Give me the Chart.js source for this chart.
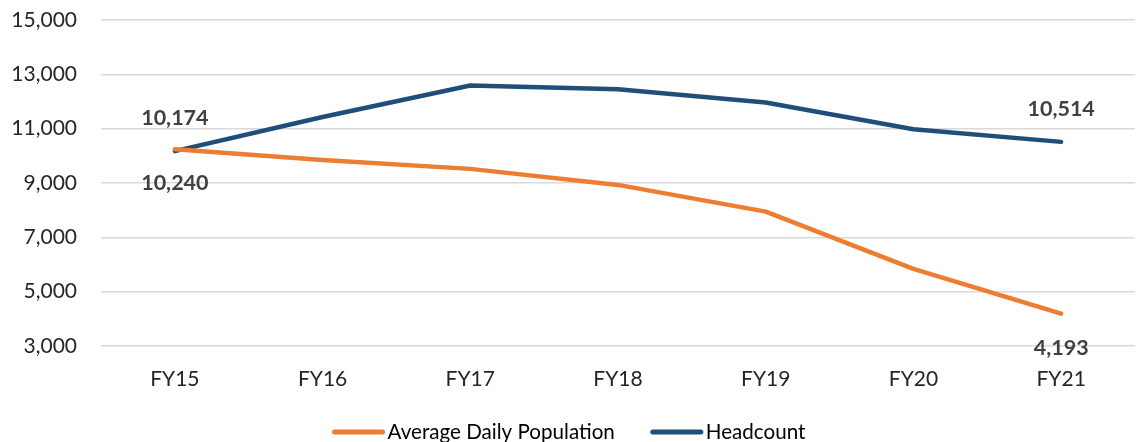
<!DOCTYPE html>
<html>
<head>
<meta charset="utf-8">
<script src="https://cdn.jsdelivr.net/npm/chart.js@4.4.1/dist/chart.umd.min.js"></script>
<style>
  html, body { margin: 0; padding: 0; background: #fff; }
  #wrap { width: 1138px; height: 442px; }
</style>
</head>
<body>
<div id="wrap"><canvas id="chart"></canvas></div>
<script>
var years = ['FY15', 'FY16', 'FY17', 'FY18', 'FY19', 'FY20', 'FY21'];
var adp = [10240, 9850, 9520, 8930, 7945, 5840, 4193];
var headcount = [10174, 11430, 12590, 12455, 11960, 10980, 10514];
var yTicks = [3000, 5000, 7000, 9000, 11000, 13000, 15000];

var FONT = 'Lato, "Open Sans", sans-serif';

// labels only on first and last point, headcount above, adp below
var endLabels = {
    id: 'endLabels',
    afterDatasetsDraw: function(chart) {
        var ctx = chart.ctx;
        ctx.save();
        ctx.font = 'bold 21.5px ' + FONT;
        ctx.fillStyle = '#404040';
        ctx.textAlign = 'center';
        ctx.textBaseline = 'middle';
        chart.data.datasets.forEach(function(ds, i) {
            var meta = chart.getDatasetMeta(i);
            [0, ds.data.length - 1].forEach(function(j) {
                var pt = meta.data[j];
                var off = ds.labelPos == 'above' ? -33 : 34;
                ctx.fillText(ds.data[j].toLocaleString('en-US'), pt.x, pt.y + off);
            });
        });
        ctx.restore();
    }
};

// legend drawn by hand so the line samples look like the original
var bottomLegend = {
    id: 'bottomLegend',
    afterDraw: function(chart) {
        var ctx = chart.ctx;
        ctx.save();
        ctx.font = '20.6px ' + FONT;
        ctx.textBaseline = 'middle';
        var y = 432;
        var sample = 52, gap = 3, spacing = 36;
        var items = chart.data.datasets;
        var total = 0;
        items.forEach(function(ds, i) {
            total += sample + gap + ctx.measureText(ds.label).width;
            if (i < items.length - 1) total += spacing;
        });
        var x = (chart.width - total) / 2;
        items.forEach(function(ds) {
            ctx.strokeStyle = ds.borderColor;
            ctx.lineWidth = 5;
            ctx.lineCap = 'round';
            ctx.beginPath();
            ctx.moveTo(x + 2, y);
            ctx.lineTo(x + sample - 2, y);
            ctx.stroke();
            x += sample + gap;
            ctx.fillStyle = '#000';
            ctx.fillText(ds.label, x, y);
            x += ctx.measureText(ds.label).width + spacing;
        });
        ctx.restore();
    }
};

new Chart(document.getElementById('chart'), {
    type: 'line',
    data: {
        labels: years,
        datasets: [{
            label: 'Average Daily Population',
            data: adp,
            borderColor: '#ED7D31',
            backgroundColor: '#ED7D31',
            borderWidth: 4.5,
            borderCapStyle: 'round',
            borderJoinStyle: 'round',
            pointRadius: 0,
            tension: 0,
            labelPos: 'below'
        }, {
            label: 'Headcount',
            data: headcount,
            borderColor: '#1F4E79',
            backgroundColor: '#1F4E79',
            borderWidth: 4.5,
            borderCapStyle: 'round',
            borderJoinStyle: 'round',
            pointRadius: 0,
            tension: 0,
            labelPos: 'above'
        }]
    },
    options: {
        responsive: true,
        maintainAspectRatio: false,
        animation: false,
        layout: { padding: { top: 20, right: 3, bottom: 46, left: 0 } },
        plugins: {
            legend: { display: false },
            tooltip: { enabled: false }
        },
        scales: {
            x: {
                offset: true,
                grid: { display: false, drawTicks: false },
                border: { display: false },
                ticks: { color: '#262626', font: { family: FONT, size: 21 }, padding: 21 },
                afterFit: function(scale) { scale.height = 50; }
            },
            y: {
                min: 3000,
                max: 15000,
                afterBuildTicks: function(scale) {
                    scale.ticks = yTicks.map(function(v) { return { value: v }; });
                },
                grid: { color: '#d9d9d9', lineWidth: 1.5, drawTicks: false },
                border: { display: false },
                ticks: {
                    color: '#262626',
                    font: { family: FONT, size: 21 },
                    padding: 24,
                    callback: function(v) { return v.toLocaleString('en-US'); }
                },
                afterFit: function(scale) {
                    scale.width = 101;
                    scale.paddingTop = 0;
                    scale.paddingBottom = 0;
                }
            }
        }
    },
    plugins: [endLabels, bottomLegend]
});
</script>
</body>
</html>
